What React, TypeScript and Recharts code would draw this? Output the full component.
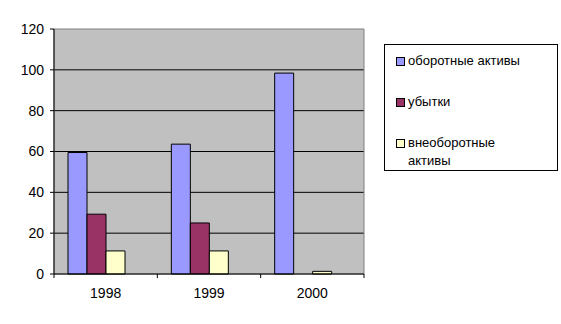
import React from 'react';
import {
  BarChart,
  Bar,
  XAxis,
  YAxis,
  CartesianGrid,
  ReferenceArea,
  Legend,
} from 'recharts';

const years = ['1998', '1999', '2000'];
const seriesNames = ['оборотные активы', 'убытки', 'внеоборотные активы'];
const currentAssets = [59.5, 63.6, 98.4];
const losses = [29.3, 25, null];
const fixedAssets = [11.3, 11.3, 1.3];
const yTicks = [0, 20, 40, 60, 80, 100, 120];

const data = years.map((year, i) => ({
  year,
  current: currentAssets[i],
  losses: losses[i],
  fixed: fixedAssets[i],
  empty: null,
}));

const FONT = '"Liberation Sans", Arial, sans-serif';
const W = 561;
const H = 324;
const margin = { top: 29, right: 197, bottom: 20, left: 0 };
const yAxisWidth = 54;
const halfBand = (W - margin.left - margin.right - yAxisWidth) / years.length / 2;

const YearTick = (props: any) => {
  const { x, y, payload, index } = props;
  return (
    <g>
      <line x1={x - halfBand} y1={y} x2={x - halfBand} y2={y + 4} stroke="#000" />
      {index === years.length - 1 && (
        <line x1={x + halfBand} y1={y} x2={x + halfBand} y2={y + 4} stroke="#000" />
      )}
      <text x={x} y={y + 24} textAnchor="middle" fill="#000" fontSize={14} fontFamily={FONT}>
        {payload.value}
      </text>
    </g>
  );
};

const LegendBox = ({ payload }: any) => {
  const items = (payload || [])
    .filter((e: any) => seriesNames.includes(e.value))
    .sort((a: any, b: any) => seriesNames.indexOf(a.value) - seriesNames.indexOf(b.value));
  return (
    <div
      style={{
        boxSizing: 'border-box',
        width: 174,
        height: 127,
        border: '1px solid #000',
        background: '#fff',
        padding: '7px 0 0 11px',
        fontFamily: FONT,
        fontSize: 13,
        color: '#000',
      }}
    >
      {items.map((entry: any) => (
        <div
          key={entry.value}
          style={{ display: 'flex', alignItems: 'flex-start', height: 41, lineHeight: '18px' }}
        >
          <span
            style={{
              display: 'inline-block',
              width: 7,
              height: 7,
              marginTop: 5,
              marginRight: 3,
              border: '1px solid #000',
              background: entry.color,
              flex: 'none',
            }}
          />
          <span style={{ width: 122 }}>{entry.value}</span>
        </div>
      ))}
    </div>
  );
};

export default function App() {
  return (
    <div style={{ position: 'absolute', left: 0, top: 0, background: '#fff' }}>
      <BarChart
        width={W}
        height={H}
        data={data}
        margin={margin}
        barGap={0}
        barCategoryGap={14}
      >
        <CartesianGrid
          horizontal
          vertical={false}
          horizontalValues={[20, 40, 60, 80, 100]}
          stroke="#000"
          fill="#c0c0c0"
          fillOpacity={1}
        />
        <ReferenceArea y1={0} y2={120} fill="none" stroke="#808080" />
        <XAxis
          dataKey="year"
          axisLine={{ stroke: '#000' }}
          tickLine={false}
          tickSize={0}
          tickMargin={0}
          height={30}
          tick={<YearTick />}
          interval={0}
        />
        <YAxis
          width={yAxisWidth}
          domain={[0, 120]}
          ticks={yTicks}
          axisLine={{ stroke: '#000' }}
          tickLine={{ stroke: '#000' }}
          tickSize={4}
          tickMargin={6}
          tick={{ fill: '#000', fontSize: 14, fontFamily: FONT }}
        />
        <Legend
          layout="vertical"
          align="center"
          verticalAlign="middle"
          content={<LegendBox />}
          wrapperStyle={{ left: 384, top: 44, width: 174, height: 127 }}
        />
        <Bar dataKey="current" name={seriesNames[0]} fill="#9999ff" stroke="#000" isAnimationActive={false} />
        <Bar dataKey="losses" name={seriesNames[1]} fill="#993366" stroke="#000" isAnimationActive={false} />
        <Bar dataKey="fixed" name={seriesNames[2]} fill="#ffffcc" stroke="#000" isAnimationActive={false} />
        <Bar dataKey="empty" name="" legendType="none" fill="none" isAnimationActive={false} />
      </BarChart>
    </div>
  );
}
